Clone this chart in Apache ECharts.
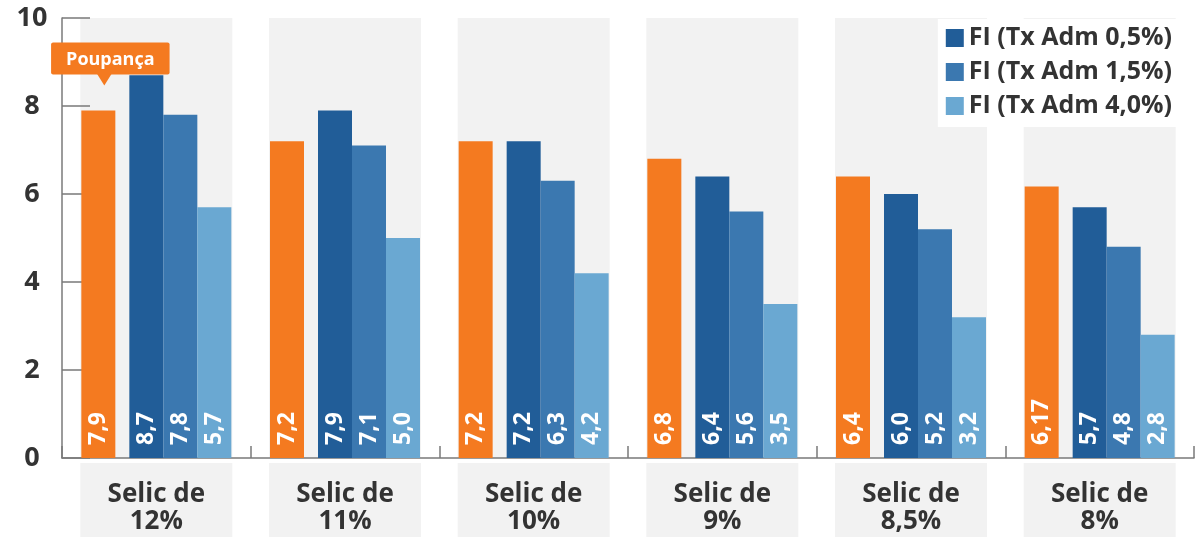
<!DOCTYPE html>
<html>
<head>
<meta charset="utf-8">
<script src="https://cdn.jsdelivr.net/npm/echarts@6/dist/echarts.min.js"></script>
<style>
  html, body { margin: 0; padding: 0; background: #ffffff; }
  #chart { width: 1200px; height: 537px; }
</style>
</head>
<body>
<div id="chart"></div>
<script>
// Categories (Selic scenarios) and yields per investment
const categories = ['Selic de\n12%', 'Selic de\n11%', 'Selic de\n10%', 'Selic de\n9%', 'Selic de\n8,5%', 'Selic de\n8%'];
const poupanca = [7.9, 7.2, 7.2, 6.8, 6.4, 6.17];
const fi05 = [8.7, 7.9, 7.2, 6.4, 6.0, 5.7];
const fi15 = [7.8, 7.1, 6.3, 5.6, 5.2, 4.8];
const fi40 = [5.7, 5.0, 4.2, 3.5, 3.2, 2.8];
const seriesNames = ['Poupança', 'FI (Tx Adm 0,5%)', 'FI (Tx Adm 1,5%)', 'FI (Tx Adm 4,0%)'];
const yMin = 0, yMax = 10, yStep = 2;

const FONT = '"Open Sans", "DejaVu Sans", sans-serif';
const TEXT = '#333333';
const AXIS = '#7a7a7a';
const BAND = '#f2f2f2';
const colors = ['#f47a20', '#215d98', '#3b78b0', '#6aa8d2'];

// Decimal comma; keep at least one decimal place
const fmt = v => (Number.isInteger(Math.round(v * 100) / 10) ? v.toFixed(1) : String(v)).replace('.', ',');

const valueLabel = {
  show: true,
  position: 'insideBottom',
  rotate: 90,
  align: 'left',
  verticalAlign: 'middle',
  distance: 13,
  color: '#ffffff',
  fontFamily: FONT,
  fontWeight: 'bold',
  fontSize: 23,
  formatter: p => fmt(p.value)
};

function barSeries(name, data, idx, extra) {
  return Object.assign({
    name: name,
    type: 'bar',
    xAxisIndex: 0,
    data: data,
    barWidth: 34,
    barGap: '0%',
    z: 3,
    itemStyle: { color: colors[idx] },
    label: valueLabel
  }, extra || {});
}

const chart = echarts.init(document.getElementById('chart'), null, { renderer: 'canvas' });

chart.setOption({
  animation: false,
  backgroundColor: '#ffffff',
  grid: { left: 62, right: 6, top: 18, bottom: 76, containLabel: false },
  legend: {
    data: seriesNames.slice(1),
    orient: 'vertical',
    right: 20,
    top: 19,
    icon: 'rect',
    itemWidth: 18,
    itemHeight: 18,
    itemGap: 8,
    itemTextGap: 8,
    padding: [6, 8, 8, 8],
    backgroundColor: '#ffffff',
    textStyle: { color: TEXT, fontFamily: FONT, fontWeight: 'bold', fontSize: 25, lineHeight: 26 }
  },
  xAxis: [
    {
      type: 'category',
      data: categories,
      z: 2,
      axisLine: { show: true, lineStyle: { color: AXIS, width: 1.5 } },
      axisTick: { show: true, inside: true, length: 12, interval: 0, lineStyle: { color: AXIS, width: 1.5 } },
      axisLabel: {
        interval: 0,
        margin: 5,
        color: TEXT,
        fontFamily: FONT,
        fontWeight: 'bold',
        fontSize: 26,
        lineHeight: 27,
        width: 152,
        height: 56,
        align: 'center',
        verticalAlign: 'top',
        padding: [18, 0, 0, 0],
        backgroundColor: BAND
      },
      splitLine: { show: false }
    },
    {
      // hidden twin axis carrying the grey group bands
      type: 'category',
      data: categories,
      show: false
    }
  ],
  yAxis: {
    type: 'value',
    min: yMin,
    max: yMax,
    interval: yStep,
    z: 2,
    axisLine: { show: true, lineStyle: { color: AXIS, width: 1.5 } },
    axisTick: { show: true, inside: true, length: 28, lineStyle: { color: AXIS, width: 1.5 } },
    axisLabel: {
      margin: 30,
      align: 'center',
      color: TEXT,
      fontFamily: FONT,
      fontWeight: 'bold',
      fontSize: 27,
      padding: [9, 0, 0, 0]
    },
    splitLine: { show: false }
  },
  series: [
    {
      name: 'band',
      type: 'bar',
      xAxisIndex: 1,
      data: categories.map(() => yMax),
      barWidth: 152,
      silent: true,
      z: 1,
      itemStyle: { color: BAND }
    },
    barSeries(seriesNames[0], poupanca, 0, {
      markPoint: {
        symbol: 'triangle',
        symbolRotate: 180,
        symbolSize: [15, 12],
        symbolOffset: [6, -31],
        itemStyle: { color: colors[0] },
        label: {
          show: true,
          position: 'top',
          distance: -1,
          offset: [6, 0],
          formatter: 'Poupança',
          color: '#ffffff',
          fontFamily: FONT,
          fontWeight: 'bold',
          fontSize: 18,
          backgroundColor: colors[0],
          borderRadius: 2,
          padding: [8, 15, 6, 15]
        },
        data: [{ coord: [0, poupanca[0]] }]
      }
    }),
    {
      // spacer between the savings bar and the fund bars
      name: 'spacer',
      type: 'bar',
      data: categories.map(() => null),
      barWidth: 14,
      barGap: '0%',
      silent: true
    },
    barSeries(seriesNames[1], fi05, 1),
    barSeries(seriesNames[2], fi15, 2),
    barSeries(seriesNames[3], fi40, 3)
  ]
});
</script>
</body>
</html>
